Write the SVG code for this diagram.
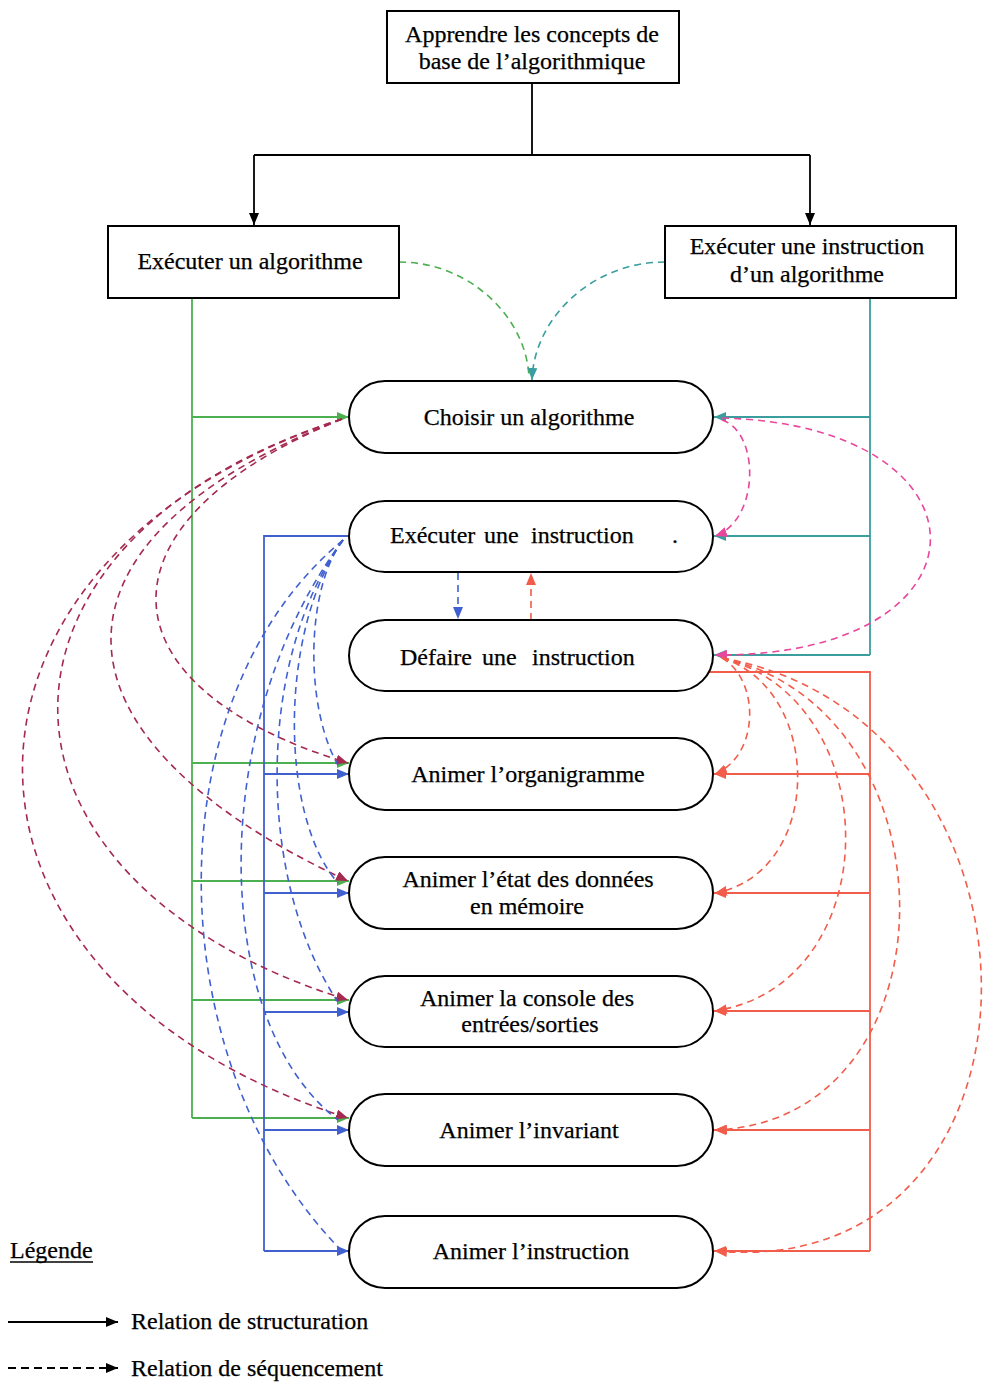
<svg xmlns="http://www.w3.org/2000/svg" width="985" height="1382" viewBox="0 0 985 1382">
  <style>
    .t { font-family: "Liberation Serif", "Times New Roman", serif; font-size: 24px; fill: #000; stroke: #000; stroke-width: 0.25; }
    .mid { text-anchor: middle; }
    .box { fill: #fff; stroke: #000; stroke-width: 2; }
    .pill { fill: #fff; stroke: #000; stroke-width: 2; }
    .ln { fill: none; stroke-width: 1.8; }
    .dl { fill: none; stroke-width: 1.6; stroke-dasharray: 7 5; }
    .black { stroke: #000; }
    .green { stroke: #4caf50; }
    .teal { stroke: #3a9e9e; }
    .blue { stroke: #4060d0; }
    .coral { stroke: #f25c4a; }
    .wine { stroke: #a52a4f; }
    .pink { stroke: #e8479b; }
  </style>
  <defs>
    <marker id="ah-black" viewBox="0 0 12 10" refX="12" refY="5" markerWidth="12" markerHeight="10" markerUnits="userSpaceOnUse" orient="auto"><path d="M0,0 L12,5 L0,10 z" fill="#000"/></marker>
    <marker id="ah-green" viewBox="0 0 12 10" refX="12" refY="5" markerWidth="12" markerHeight="10" markerUnits="userSpaceOnUse" orient="auto"><path d="M0,0 L12,5 L0,10 z" fill="#4caf50"/></marker>
    <marker id="ah-teal" viewBox="0 0 12 10" refX="12" refY="5" markerWidth="12" markerHeight="10" markerUnits="userSpaceOnUse" orient="auto"><path d="M0,0 L12,5 L0,10 z" fill="#3a9e9e"/></marker>
    <marker id="ah-blue" viewBox="0 0 12 10" refX="12" refY="5" markerWidth="12" markerHeight="10" markerUnits="userSpaceOnUse" orient="auto"><path d="M0,0 L12,5 L0,10 z" fill="#4060d0"/></marker>
    <marker id="ah-coral" viewBox="0 0 12 10" refX="12" refY="5" markerWidth="12" markerHeight="10" markerUnits="userSpaceOnUse" orient="auto"><path d="M0,0 L12,5 L0,10 z" fill="#f25c4a"/></marker>
    <marker id="ah-wine" viewBox="0 0 12 10" refX="12" refY="5" markerWidth="12" markerHeight="10" markerUnits="userSpaceOnUse" orient="auto"><path d="M0,0 L12,5 L0,10 z" fill="#a52a4f"/></marker>
    <marker id="ah-pink" viewBox="0 0 12 10" refX="12" refY="5" markerWidth="12" markerHeight="10" markerUnits="userSpaceOnUse" orient="auto"><path d="M0,0 L12,5 L0,10 z" fill="#e8479b"/></marker>
  </defs>

  <!-- connectors -->
  <g id="connectors">
    <!-- tree from the top goal -->
    <path class="ln black" d="M532,83 V155 M254,155 H810"/>
    <path class="ln black" d="M254,155 V225" marker-end="url(#ah-black)"/>
    <path class="ln black" d="M810,155 V225" marker-end="url(#ah-black)"/>

    <!-- structuring: Exécuter un algorithme -->
    <path class="ln green" d="M192,298 V1118"/>
    <path class="ln green" d="M192,417 H349" marker-end="url(#ah-green)"/>
    <path class="ln green" d="M192,763 H349" marker-end="url(#ah-green)"/>
    <path class="ln green" d="M192,881 H349" marker-end="url(#ah-green)"/>
    <path class="ln green" d="M192,1000 H349" marker-end="url(#ah-green)"/>
    <path class="ln green" d="M192,1118 H349" marker-end="url(#ah-green)"/>

    <!-- structuring: Exécuter une instruction d'un algorithme -->
    <path class="ln teal" d="M870,298 V655"/>
    <path class="ln teal" d="M870,417 H714" marker-end="url(#ah-teal)"/>
    <path class="ln teal" d="M870,536 H714" marker-end="url(#ah-teal)"/>
    <path class="ln teal" d="M870,655 H714" marker-end="url(#ah-teal)"/>

    <!-- structuring: Exécuter une instruction -->
    <path class="ln blue" d="M349,536 H264 V1251"/>
    <path class="ln blue" d="M264,774 H349" marker-end="url(#ah-blue)"/>
    <path class="ln blue" d="M264,893 H349" marker-end="url(#ah-blue)"/>
    <path class="ln blue" d="M264,1012 H349" marker-end="url(#ah-blue)"/>
    <path class="ln blue" d="M264,1130 H349" marker-end="url(#ah-blue)"/>
    <path class="ln blue" d="M264,1251 H349" marker-end="url(#ah-blue)"/>

    <!-- structuring: Défaire une instruction -->
    <path class="ln coral" d="M707,672 H870 V1251"/>
    <path class="ln coral" d="M870,774 H714" marker-end="url(#ah-coral)"/>
    <path class="ln coral" d="M870,893 H714" marker-end="url(#ah-coral)"/>
    <path class="ln coral" d="M870,1011 H714" marker-end="url(#ah-coral)"/>
    <path class="ln coral" d="M870,1130 H714" marker-end="url(#ah-coral)"/>
    <path class="ln coral" d="M870,1251 H714" marker-end="url(#ah-coral)"/>

    <!-- sequencing toward Choisir un algorithme -->
    <path class="dl green" d="M399,262 C470,262 527,318 529,378"/>
    <path class="dl teal" d="M665,262 C592,262 534,318 532,380" marker-end="url(#ah-teal)"/>

    <!-- sequencing from Choisir un algorithme (right side) -->
    <path class="dl pink" d="M722,420 C760,432 760,520 715,536" marker-end="url(#ah-pink)"/>
    <path class="dl pink" d="M722,418 C1001,425 1001,657 715,655" marker-end="url(#ah-pink)"/>

    <!-- sequencing between Exécuter / Défaire -->
    <path class="dl blue" d="M458,573 V619" marker-end="url(#ah-blue)"/>
    <path class="dl coral" d="M531,620 V573" marker-end="url(#ah-coral)"/>

    <!-- sequencing from Choisir un algorithme (left side) -->
    <path class="dl wine" d="M342,419 C93,520 93,686 348,763" marker-end="url(#ah-wine)"/>
    <path class="dl wine" d="M342,419 C33,540 33,735 348,881" marker-end="url(#ah-wine)"/>
    <path class="dl wine" d="M342,419 C-38,540 -38,880 348,1000" marker-end="url(#ah-wine)"/>
    <path class="dl wine" d="M342,419 C-85,560 -85,981 348,1118" marker-end="url(#ah-wine)"/>

    <!-- sequencing from Exécuter une instruction -->
    <path class="dl blue" d="M343,540 C305,590 305,708 338,765"/>
    <path class="dl blue" d="M343,540 C279,630 279,816 338,883"/>
    <path class="dl blue" d="M343,540 C256,660 256,880 338,1002"/>
    <path class="dl blue" d="M343,540 C208,720 208,1020 338,1120"/>
    <path class="dl blue" d="M343,540 C150,700 159,1063 340,1249"/>

    <!-- sequencing from Défaire une instruction -->
    <path class="dl coral" d="M722,658 C760,680 760,755 715,774" marker-end="url(#ah-coral)"/>
    <path class="dl coral" d="M722,658 C824,690 824,873 715,893" marker-end="url(#ah-coral)"/>
    <path class="dl coral" d="M722,658 C888,700 888,984 715,1011" marker-end="url(#ah-coral)"/>
    <path class="dl coral" d="M722,658 C960,710 960,1121 715,1130" marker-end="url(#ah-coral)"/>
    <path class="dl coral" d="M722,658 C1069,720 1069,1283 715,1251" marker-end="url(#ah-coral)"/>
  </g>

  <!-- nodes -->
  <g id="n-apprendre">
    <rect class="box" x="387" y="11" width="292" height="72"/>
    <text class="t mid" x="532" y="42">Apprendre les concepts de</text>
    <text class="t mid" x="532" y="69">base de l’algorithmique</text>
  </g>
  <g id="n-exec-algo">
    <rect class="box" x="108" y="226" width="291" height="72"/>
    <text class="t mid" x="250" y="269">Exécuter un algorithme</text>
  </g>
  <g id="n-exec-instr-algo">
    <rect class="box" x="665" y="226" width="291" height="72"/>
    <text class="t mid" x="807" y="254">Exécuter une instruction</text>
    <text class="t mid" x="807" y="282">d’un algorithme</text>
  </g>
  <g id="n-choisir">
    <rect class="pill" x="349" y="381" width="364" height="72" rx="36" ry="36"/>
    <text class="t mid" x="529" y="425">Choisir un algorithme</text>
  </g>
  <g id="n-executer">
    <rect class="pill" x="349" y="501" width="364" height="71" rx="36" ry="35.5"/>
    <text class="t" y="543"><tspan x="390">Exécuter</tspan><tspan x="484">une</tspan><tspan x="531">instruction</tspan><tspan x="672">.</tspan></text>
  </g>
  <g id="n-defaire">
    <rect class="pill" x="349" y="620" width="364" height="71" rx="36" ry="35.5"/>
    <text class="t" y="665"><tspan x="400">Défaire</tspan><tspan x="482">une</tspan><tspan x="532">instruction</tspan></text>
  </g>
  <g id="n-organigramme">
    <rect class="pill" x="349" y="738" width="364" height="72" rx="36" ry="36"/>
    <text class="t mid" x="528" y="782">Animer l’organigramme</text>
  </g>
  <g id="n-donnees">
    <rect class="pill" x="349" y="857" width="364" height="72" rx="36" ry="36"/>
    <text class="t mid" x="528" y="887">Animer l’état des données</text>
    <text class="t mid" x="527" y="914">en mémoire</text>
  </g>
  <g id="n-console">
    <rect class="pill" x="349" y="976" width="364" height="71" rx="36" ry="35.5"/>
    <text class="t mid" x="527" y="1006">Animer la console des</text>
    <text class="t mid" x="530" y="1032">entrées/sorties</text>
  </g>
  <g id="n-invariant">
    <rect class="pill" x="349" y="1094" width="364" height="72" rx="36" ry="36"/>
    <text class="t mid" x="529" y="1138">Animer l’invariant</text>
  </g>
  <g id="n-instruction">
    <rect class="pill" x="349" y="1216" width="364" height="72" rx="36" ry="36"/>
    <text class="t mid" x="531" y="1259">Animer l’instruction</text>
  </g>

  <!-- legend -->
  <g id="legend">
    <text class="t" x="10" y="1258">Légende</text>
    <path d="M10,1262 H93" stroke="#000" stroke-width="1.3"/>
    <path class="ln black" d="M8,1322 H118" marker-end="url(#ah-black)"/>
    <text class="t" x="131" y="1329">Relation de structuration</text>
    <path class="ln black" d="M8,1368 H118" stroke-dasharray="8 5" marker-end="url(#ah-black)"/>
    <text class="t" x="131" y="1376">Relation de séquencement</text>
  </g>
</svg>
